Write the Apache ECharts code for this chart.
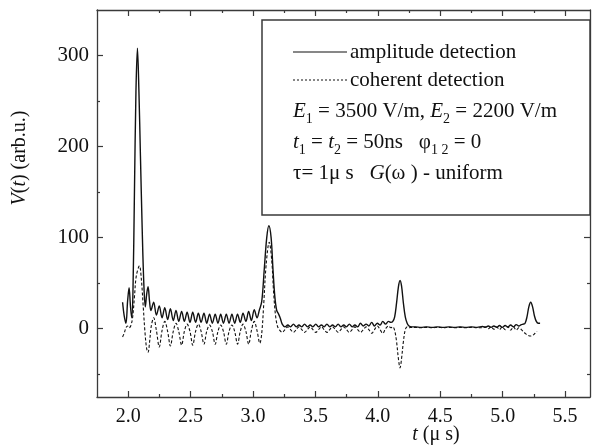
<!DOCTYPE html>
<html>
<head>
<meta charset="utf-8">
<script src="https://cdn.jsdelivr.net/npm/echarts@6.0.0/dist/echarts.min.js"></script>
<style>
html,body{margin:0;padding:0;background:#fff;}
#chart{width:592px;height:445px;}
</style>
</head>
<body>
<div id="chart"></div>
<script>
// ---- data ----
const ampT = [1.955,1.968,1.982,1.995,2.007,2.018,2.028,2.038,2.05,2.062,2.074,2.086,2.098,2.112,2.125,2.137,2.148,2.159,2.171,2.182,
  2.204,2.226,2.249,2.271,2.293,2.316,2.338,2.361,2.383,2.405,2.428,2.450,2.472,2.495,2.517,2.540,2.562,2.584,2.607,2.629,
  2.652,2.674,2.697,2.719,2.741,2.763,2.786,2.808,2.831,2.853,2.876,2.898,2.920,2.943,2.965,2.987,3.010,3.032,
  3.050,3.07,3.09,3.11,3.127,3.145,3.16,3.175,3.19,3.205,3.22,
  3.234,3.256,3.279,3.301,3.324,3.346,3.368,3.391,3.413,3.436,3.458,3.480,3.503,3.525,3.548,3.570,3.592,3.615,3.637,3.660,
  3.682,3.704,3.727,3.749,3.772,3.794,3.816,3.839,3.861,3.884,3.906,3.928,3.951,3.973,3.996,4.018,4.040,4.062,4.085,
  4.105,4.12,4.135,4.15,4.165,4.178,4.19,4.205,4.22,4.235,4.25,4.27,
  4.30,4.345,4.39,4.435,4.48,4.525,4.57,4.615,4.66,4.705,4.75,4.795,4.84,4.862,4.885,4.907,4.93,4.952,4.975,4.997,
  5.02,5.042,5.064,5.087,5.109,5.13,5.15,5.165,5.18,5.195,5.21,5.225,5.24,5.255,5.27,5.285,5.30];
const ampV = [29,14,6,30,45,25,12,40,150,260,308,260,190,110,50,24,38,46,30,20,
  29,15,25,12,23,10,22,9,20,8,19,8,18,7,18,7,17,7,17,6,
  16,6,16,6,16,6,16,6,16,6,16,7,17,8,19,9,21,12,
  20,30,65,100,113,100,65,35,20,16,11,
  5,2,4,2,5,2,4,2,5,2,4,2,5,2,4,2,5,2,4,2,
  5,2,4,2,5,2,4,2,6,3,5,3,7,3,6,4,8,5,8,
  7,8,13,28,46,53,47,28,13,6,3,2,
  2,1.5,2,1.5,2,1.5,2,1.5,2,1.5,2,1.5,2.5,1.5,3,1.5,3,1.5,3.5,1.5,
  3.5,2,4,2,4.5,3,4.5,5,6,13,24,29,24,14,8,6,6];

const cohT = [1.955,1.968,1.982,1.995,2.007,2.02,2.035,2.05,2.065,2.09,2.105,2.12,2.135,2.148,2.159,2.171,2.185,
  2.204,2.226,2.249,2.271,2.293,2.316,2.338,2.361,2.383,2.405,2.428,2.450,2.472,2.495,2.517,2.540,2.562,2.584,2.607,2.629,
  2.652,2.674,2.697,2.719,2.741,2.763,2.786,2.808,2.831,2.853,2.876,2.898,2.920,2.943,2.965,2.987,3.010,3.032,
  3.055,3.07,3.085,3.105,3.13,3.15,3.165,3.18,3.195,3.21,
  3.234,3.256,3.279,3.301,3.324,3.346,3.368,3.391,3.413,3.436,3.458,3.480,3.503,3.525,3.548,3.570,3.592,3.615,3.637,3.660,
  3.682,3.704,3.727,3.749,3.772,3.794,3.816,3.839,3.861,3.884,3.906,3.928,3.951,3.973,3.996,4.018,4.040,4.062,4.085,
  4.105,4.12,4.135,4.15,4.165,4.178,4.19,4.205,4.22,4.235,4.25,4.27,
  4.30,4.345,4.39,4.435,4.48,4.525,4.57,4.615,4.66,4.705,4.75,4.795,4.84,4.862,4.885,4.907,4.93,4.952,4.975,4.997,
  5.02,5.042,5.064,5.087,5.109,5.13,5.15,5.165,5.18,5.20,5.225,5.245,5.26,5.275];
const cohV = [-9,-5,1,3,1,3,12,35,58,69,55,25,-5,-22,-26,-15,3,
  12,-2,-20,-2,8,-3,-19,-3,6,-3,-18,-3,5,-3,-18,-3,5,-3,-17,-3,
  4,-3,-17,-3,4,-3,-17,-3,4,-3,-17,-3,5,-3,-17,-2,8,-2,
  -16,-5,25,70,95,75,40,15,3,-1,
  -4,-1,2,-1,-4,-1,2,-1,-4,-1,2,-1,-4,-1,2,-1,-4,-1,2,-1,
  -4,-1,2,-1,-4,-1,2,-1,-4,-1,2,-1,-5,-1,3,-1,-5,0,3,
  1,2,-2,-14,-33,-43,-33,-14,-1,2,1,1.5,
  1.5,1,1.5,1,1.5,1,1.5,1,1.5,1,1.5,1,1,2,0,2,-0.5,2,-1,2,
  -1,2,-1.5,2,-1.5,1,-1,-3,-5,-7,-8,-7,-5,-3];

const xMajor = [2.0,2.5,3.0,3.5,4.0,4.5,5.0,5.5];
const xMinor = [2.25,2.75,3.25,3.75,4.25,4.75,5.25];
const yMajor = [0,100,200,300];
const yMinor = [-50,50,150,250];

// ---- chart ----
const FONT = 'Liberation Serif';
const AX = '#3a3a3a';
const INK = '#111';
const chart = echarts.init(document.getElementById('chart'), null, {renderer:'canvas'});

function xAx(pos, vals, len, showLine, showLabel){
  return {type:'value', min:1.75, max:5.7, position:pos,
    axisLine:{show:showLine, onZero:false, lineStyle:{color:AX, width:1.3}},
    axisTick:{show:true, inside:true, length:len, customValues:vals, lineStyle:{color:AX, width:1.2}},
    axisLabel:{show:showLabel, customValues:vals, margin:10, color:INK, fontFamily:FONT, fontSize:20,
      formatter:v=>Number(v).toFixed(1)},
    splitLine:{show:false}};
}
function yAx(pos, vals, len, showLine, showLabel){
  return {type:'value', min:-75, max:350, position:pos,
    axisLine:{show:showLine, onZero:false, lineStyle:{color:AX, width:1.3}},
    axisTick:{show:true, inside:true, length:len, customValues:vals, lineStyle:{color:AX, width:1.2}},
    axisLabel:{show:showLabel, customValues:vals, margin:8, color:INK, fontFamily:FONT, fontSize:21,
      formatter:v=>String(Math.round(v))},
    splitLine:{show:false}};
}

const txt = {fontFamily:FONT, fontSize:21, fill:INK};
const rich = {
  i:{fontFamily:FONT, fontSize:21, fontStyle:'italic', fill:INK, lineHeight:30},
  n:{fontFamily:FONT, fontSize:21, fill:INK, lineHeight:30},
  s:{fontFamily:FONT, fontSize:14, fill:INK, verticalAlign:'bottom', lineHeight:14}
};
const richAx = {
  i:{fontFamily:FONT, fontSize:20, fontStyle:'italic', fill:INK, lineHeight:24},
  n:{fontFamily:FONT, fontSize:20, fill:INK, lineHeight:24}
};

chart.setOption({
  animation:false,
  backgroundColor:'#fff',
  grid:{left:97, right:2, top:10, bottom:48, containLabel:false},
  xAxis:[xAx('bottom', xMajor, 6, true, true), xAx('bottom', xMinor, 3, false, false),
         xAx('top', xMajor, 6, true, false), xAx('top', xMinor, 3, false, false)],
  yAxis:[yAx('left', yMajor, 6, true, true), yAx('left', yMinor, 3, false, false),
         yAx('right', yMajor, 6, true, false), yAx('right', yMinor, 3, false, false)],
  series:[
    {name:'amplitude detection', type:'line', xAxisIndex:0, yAxisIndex:0, showSymbol:false, smooth:0.35,
     data:ampT.map((t,i)=>[t, ampV[i]]), lineStyle:{color:INK, width:1.4}, z:3},
    {name:'coherent detection', type:'line', xAxisIndex:0, yAxisIndex:0, showSymbol:false, smooth:0.35,
     data:cohT.map((t,i)=>[t, cohV[i]]), lineStyle:{color:INK, width:1.1, type:[3,2]}, z:2}
  ],
  graphic:[
    {type:'rect', shape:{x:262, y:20, width:328, height:195}, style:{fill:'#fff', stroke:AX, lineWidth:1.5}, z:10},
    {type:'line', shape:{x1:293, y1:52, x2:347, y2:52}, style:{stroke:INK, lineWidth:1.2}, z:11},
    {type:'line', shape:{x1:293, y1:80, x2:347, y2:80}, style:{stroke:INK, lineWidth:1, lineDash:[2,2]}, z:11},
    {type:'text', x:350, y:52, z:11, style:Object.assign({text:'amplitude detection', verticalAlign:'middle'}, txt)},
    {type:'text', x:350, y:80, z:11, style:Object.assign({text:'coherent detection', verticalAlign:'middle'}, txt)},
    {type:'text', x:293, y:111, z:11, style:{text:'{i|E}{s|1}{n| = 3500 V/m, }{i|E}{s|2}{n| = 2200 V/m}', rich:rich, verticalAlign:'middle'}},
    {type:'text', x:293, y:142, z:11, style:{text:'{i|t}{s|1}{n| = }{i|t}{s|2}{n| = 50ns   φ}{s|1 2}{n| = 0}', rich:rich, verticalAlign:'middle'}},
    {type:'text', x:293, y:173, z:11, style:{text:'{n|τ= 1μ s   }{i|G}{n|(ω ) - uniform}', rich:rich, verticalAlign:'middle'}},
    {type:'text', x:20, y:158, rotation:Math.PI/2, z:11, style:{text:'{i|V}{n|(}{i|t}{n|) (arb.u.)}', rich:richAx, align:'center', verticalAlign:'middle'}},
    {type:'text', x:436, y:435, z:11, style:{text:'{i|t}{n| (μ s)}', rich:richAx, align:'center', verticalAlign:'middle'}}
  ]
});
</script>
</body>
</html>
